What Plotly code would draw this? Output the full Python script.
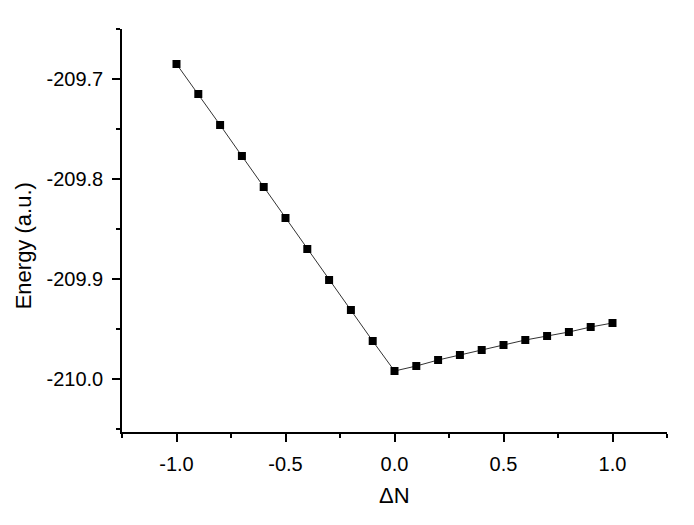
import plotly.graph_objects as go

delta_n = [-1.0, -0.9, -0.8, -0.7, -0.6, -0.5, -0.4, -0.3, -0.2, -0.1, 0.0,
           0.1, 0.2, 0.3, 0.4, 0.5, 0.6, 0.7, 0.8, 0.9, 1.0]
energy = [-209.685, -209.715, -209.746, -209.777, -209.808, -209.839, -209.870,
          -209.901, -209.931, -209.962, -209.992,
          -209.987, -209.981, -209.976, -209.971, -209.966, -209.961, -209.957,
          -209.953, -209.948, -209.944]

x_ticks = [-1.0, -0.5, 0.0, 0.5, 1.0]
x_tick_labels = ["-1.0", "-0.5", "0.0", "0.5", "1.0"]
y_ticks = [-210.0, -209.9, -209.8, -209.7]
y_tick_labels = ["-210.0", "-209.9", "-209.8", "-209.7"]

FONT = "Liberation Sans, Arial, sans-serif"

fig = go.Figure()
fig.add_trace(go.Scatter(
    x=delta_n, y=energy, mode="lines+markers",
    line=dict(color="#333333", width=1),
    marker=dict(symbol="square", size=8, color="black"),
    showlegend=False,
))

fig.update_layout(
    width=686, height=517,
    margin=dict(l=114, r=27, t=20.5, b=93),
    plot_bgcolor="white", paper_bgcolor="white",
    font=dict(family=FONT, size=20, color="black"),
    xaxis=dict(
        range=[-1.25, 1.25], tickvals=x_ticks, ticktext=x_tick_labels,
        ticks="outside", ticklen=8, tickwidth=1.5, tickcolor="black",
        showline=True, linecolor="black", linewidth=1.5,
        showgrid=False, zeroline=False,
        minor=dict(ticks="outside", ticklen=4, tickwidth=1.5, tickcolor="black",
                   tick0=-1.25, dtick=0.25, showgrid=False),
        ticklabelstandoff=5,
    ),
    yaxis=dict(
        range=[-210.053, -209.65], tickvals=y_ticks, ticktext=y_tick_labels,
        ticks="outside", ticklen=8, tickwidth=1.5, tickcolor="black",
        showline=True, linecolor="black", linewidth=1.5,
        showgrid=False, zeroline=False,
        minor=dict(ticks="outside", ticklen=4, tickwidth=1.5, tickcolor="black",
                   tick0=-210.05, dtick=0.05, showgrid=False),
        ticklabelstandoff=5,
    ),
    annotations=[
        dict(text="Energy (a.u.)", xref="paper", yref="paper",
             x=-0.1807, y=0.462, textangle=-90, showarrow=False,
             font=dict(size=22), xanchor="center", yanchor="middle"),
        dict(text="ΔN", xref="paper", yref="paper",
             x=0.5, y=-0.1586, showarrow=False,
             font=dict(size=22), xanchor="center", yanchor="middle"),
    ],
)

fig.write_html("out.html")
